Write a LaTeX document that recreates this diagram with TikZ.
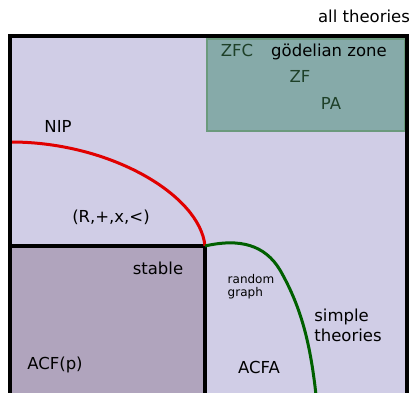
\documentclass[tikz,border=0pt]{standalone}
\usepackage{fontspec}
\setmainfont{DejaVu Sans}
\definecolor{bgpurple}{RGB}{208,205,230}
\definecolor{stablefill}{RGB}{176,164,189}
\definecolor{godelfill}{RGB}{134,170,169}
\definecolor{godeldraw}{RGB}{107,154,125}
\definecolor{godeltext}{RGB}{30,64,40}
\definecolor{nipred}{RGB}{225,0,0}
\definecolor{simplegreen}{RGB}{0,96,0}
\usetikzlibrary{positioning}

\begin{document}
\begin{tikzpicture}[
    x=1pt, y=-1pt,
    every node/.style={font=\fontsize{16.5}{20}\selectfont, inner sep=1pt},
    small/.style={font=\fontsize{12}{13}\selectfont, align=left},
    zonetext/.style={text=godeltext},
    frame/.style={draw=black, line width=4pt},
    border/.style={line width=3pt}
]
\useasboundingbox (0,0) rectangle (415,393);

% regions
\fill[bgpurple] (9.5,36) rectangle (407,395);
\draw[fill=godelfill, draw=godeldraw, line width=1.5pt] (207,39) rectangle (405,131);
\draw[frame, fill=stablefill] (9.5,246) rectangle (205,395);

% boundaries
\coordinate (nipstart) at (11,142);
\coordinate (corner) at (205,246);
\coordinate (simpleend) at (316,395);
\draw[border, nipred] (nipstart) .. controls (110,142) and (200,195) .. (corner);
\draw[border, simplegreen] (corner) .. controls (240,238) and (265,245) .. (280,270)
    .. controls (300,305) and (310,340) .. (simpleend);

\draw[frame] (9.5,395) -- (9.5,36) -- (407,36) -- (407,395);

% labels
\node (all) at (364,16) {all theories};
\node[zonetext] (zfc) at (237,50) {ZFC};
\node (godel) at (329,52) {gödelian zone};
\node[zonetext] (zf) at (300,76) {ZF};
\node[zonetext] (pa) at (331,103) {PA};
\node (nip) at (58,126) {NIP};
\node (reals) at (111,217) {(R,+,x,<)};
\node (stable) at (158,268) {stable};
\node (acfp) at (55,365) {ACF(p)};
\node[small] (random) at (251,287) {random\\graph};
\node[align=left] (simple) at (348,325) {simple\\theories};
\node (acfa) at (259,367) {ACFA};
\end{tikzpicture}
\end{document}
